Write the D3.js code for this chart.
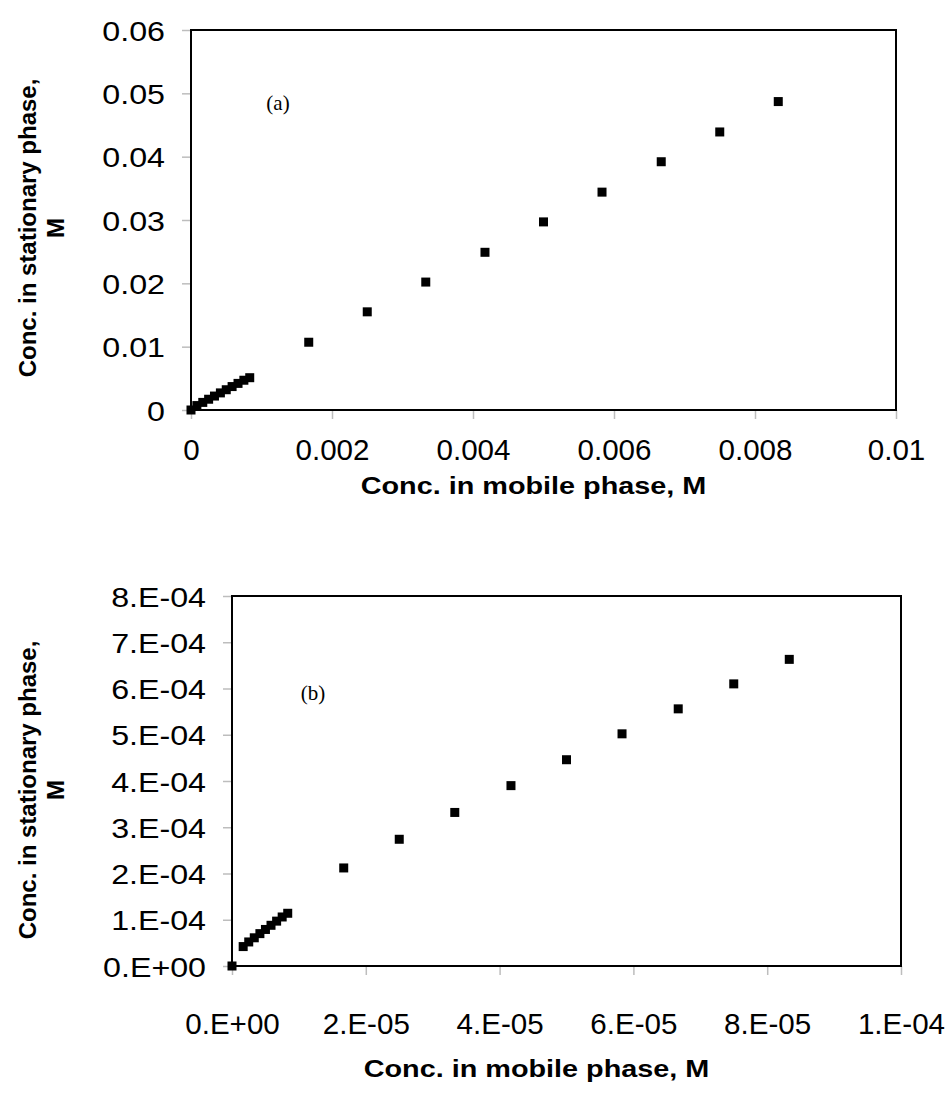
<!DOCTYPE html>
<html>
<head>
<meta charset="utf-8">
<script src="https://cdn.jsdelivr.net/npm/d3@7"></script>
<style>
  body { margin: 0; background: #fff; }
  svg { display: block; }
</style>
</head>
<body>
<svg id="chart" width="951" height="1093"></svg>
<script>
// panel (a)
const xA = [0, 0.0000833, 0.000167, 0.00025, 0.000333, 0.000417, 0.0005, 0.000583, 0.000667, 0.00075, 0.000833,
            0.00167, 0.0025, 0.00333, 0.00417, 0.005, 0.00583, 0.00667, 0.0075, 0.00833];
const yA = [0, 0.0007, 0.0012, 0.0017, 0.0022, 0.0027, 0.0032, 0.0037, 0.0042, 0.0047, 0.0051,
            0.0107, 0.0155, 0.0202, 0.0249, 0.0297, 0.0344, 0.0392, 0.0439, 0.0487];
const xTicksA = [0, 0.002, 0.004, 0.006, 0.008, 0.01];
const xLabelsA = ["0", "0.002", "0.004", "0.006", "0.008", "0.01"];
const yTicksA = [0, 0.01, 0.02, 0.03, 0.04, 0.05, 0.06];
const yLabelsA = ["0", "0.01", "0.02", "0.03", "0.04", "0.05", "0.06"];

// panel (b)
const xB = [0, 1.67e-6, 2.5e-6, 3.33e-6, 4.17e-6, 5e-6, 5.83e-6, 6.67e-6, 7.5e-6, 8.33e-6,
            1.67e-5, 2.5e-5, 3.33e-5, 4.17e-5, 5e-5, 5.83e-5, 6.67e-5, 7.5e-5, 8.33e-5];
const yB = [0, 4.2e-5, 5.2e-5, 6.1e-5, 7.0e-5, 7.9e-5, 8.8e-5, 9.7e-5, 1.06e-4, 1.14e-4,
            2.12e-4, 2.74e-4, 3.32e-4, 3.9e-4, 4.46e-4, 5.02e-4, 5.56e-4, 6.1e-4, 6.63e-4];
const xTicksB = [0, 2e-5, 4e-5, 6e-5, 8e-5, 1e-4];
const xLabelsB = ["0.E+00", "2.E-05", "4.E-05", "6.E-05", "8.E-05", "1.E-04"];
const yTicksB = [0, 1e-4, 2e-4, 3e-4, 4e-4, 5e-4, 6e-4, 7e-4, 8e-4];
const yLabelsB = ["0.E+00", "1.E-04", "2.E-04", "3.E-04", "4.E-04", "5.E-04", "6.E-04", "7.E-04", "8.E-04"];

const svg = d3.select("#chart");
svg.append("rect").attr("width", 951).attr("height", 1093).attr("fill", "#fff");

// widen horizontal text a bit, the scanned figure is stretched sideways
function stretch(sel, k) {
    sel.each(function() {
        const w = this.getComputedTextLength();
        d3.select(this).attr("textLength", w * k).attr("lengthAdjust", "spacingAndGlyphs");
    });
}

function panel(o) {
    const x = d3.scaleLinear().domain(o.xDomain).range([o.left, o.right]);
    const y = d3.scaleLinear().domain(o.yDomain).range([o.bottom, o.top]);
    const g = svg.append("g");

    const ax = g.append("g")
        .attr("transform", `translate(0,${o.bottom})`)
        .call(d3.axisBottom(x).tickValues(o.xTicks).tickSize(9).tickPadding(o.xPad)
            .tickFormat((d, i) => o.xLabels[i]));
    const ay = g.append("g")
        .attr("transform", `translate(${o.left},0)`)
        .call(d3.axisLeft(y).tickValues(o.yTicks).tickSize(9).tickPadding(17)
            .tickFormat((d, i) => o.yLabels[i]));

    [ax, ay].forEach(a => {
        a.select(".domain").remove();
        a.selectAll("line").attr("stroke", "#bdbdbd").attr("stroke-width", 1.5);
        a.selectAll("text").attr("fill", "#000")
            .style("font-family", "'Liberation Sans', Arial, sans-serif");
    });
    ay.selectAll("text").style("font-size", "28px").attr("dy", "0.36em").call(stretch, 1.15);
    ax.selectAll("text").style("font-size", "29px").call(stretch, 1.02);

    // frame
    g.append("rect")
        .attr("x", o.left).attr("y", o.top)
        .attr("width", o.right - o.left).attr("height", o.bottom - o.top)
        .attr("fill", "none").attr("stroke", "#000").attr("stroke-width", 2);

    // points
    const s = 9;
    g.selectAll("rect.pt")
        .data(o.xs.map((d, i) => [d, o.ys[i]]))
        .join("rect")
        .attr("class", "pt")
        .attr("x", d => x(d[0]) - s / 2)
        .attr("y", d => y(d[1]) - s / 2)
        .attr("width", s).attr("height", s)
        .attr("fill", "#000");

    // panel tag
    g.append("text")
        .attr("x", o.tag[0]).attr("y", o.tag[1])
        .attr("text-anchor", "middle")
        .style("font-family", "'Liberation Serif', 'Times New Roman', serif")
        .style("font-size", "21px")
        .text(o.tagText);

    // axis titles
    g.append("text")
        .attr("x", (o.left + o.right) / 2 + o.xTitleShift).attr("y", o.xTitleY)
        .attr("text-anchor", "middle")
        .style("font-family", "'Liberation Sans', Arial, sans-serif")
        .style("font-size", "24px").style("font-weight", "bold")
        .text("Conc. in mobile phase, M")
        .call(stretch, 1.2);

    const yt = g.append("text")
        .attr("transform", `translate(${o.yTitleX},${o.yTitleY}) rotate(-90)`)
        .attr("text-anchor", "middle")
        .style("font-family", "'Liberation Sans', Arial, sans-serif")
        .style("font-size", "24px").style("font-weight", "bold");
    yt.append("tspan").attr("x", 0).attr("y", 0).text("Conc. in stationary phase,");
    yt.append("tspan").attr("x", 0).attr("y", 28).text("M");
}

panel({
    left: 191, right: 896, top: 30, bottom: 410,
    xDomain: [0, 0.01], yDomain: [0, 0.06],
    xTicks: xTicksA, xLabels: xLabelsA, yTicks: yTicksA, yLabels: yLabelsA,
    xPad: 20, xs: xA, ys: yA,
    tag: [278, 110], tagText: "(a)",
    xTitleShift: -10, xTitleY: 494,
    yTitleX: 36, yTitleY: 228
});

panel({
    left: 232, right: 901, top: 596, bottom: 966,
    xDomain: [0, 1e-4], yDomain: [0, 8e-4],
    xTicks: xTicksB, xLabels: xLabelsB, yTicks: yTicksB, yLabels: yLabelsB,
    xPad: 38, xs: xB, ys: yB,
    tag: [313, 700], tagText: "(b)",
    xTitleShift: -30, xTitleY: 1077,
    yTitleX: 36, yTitleY: 790
});
</script>
</body>
</html>
